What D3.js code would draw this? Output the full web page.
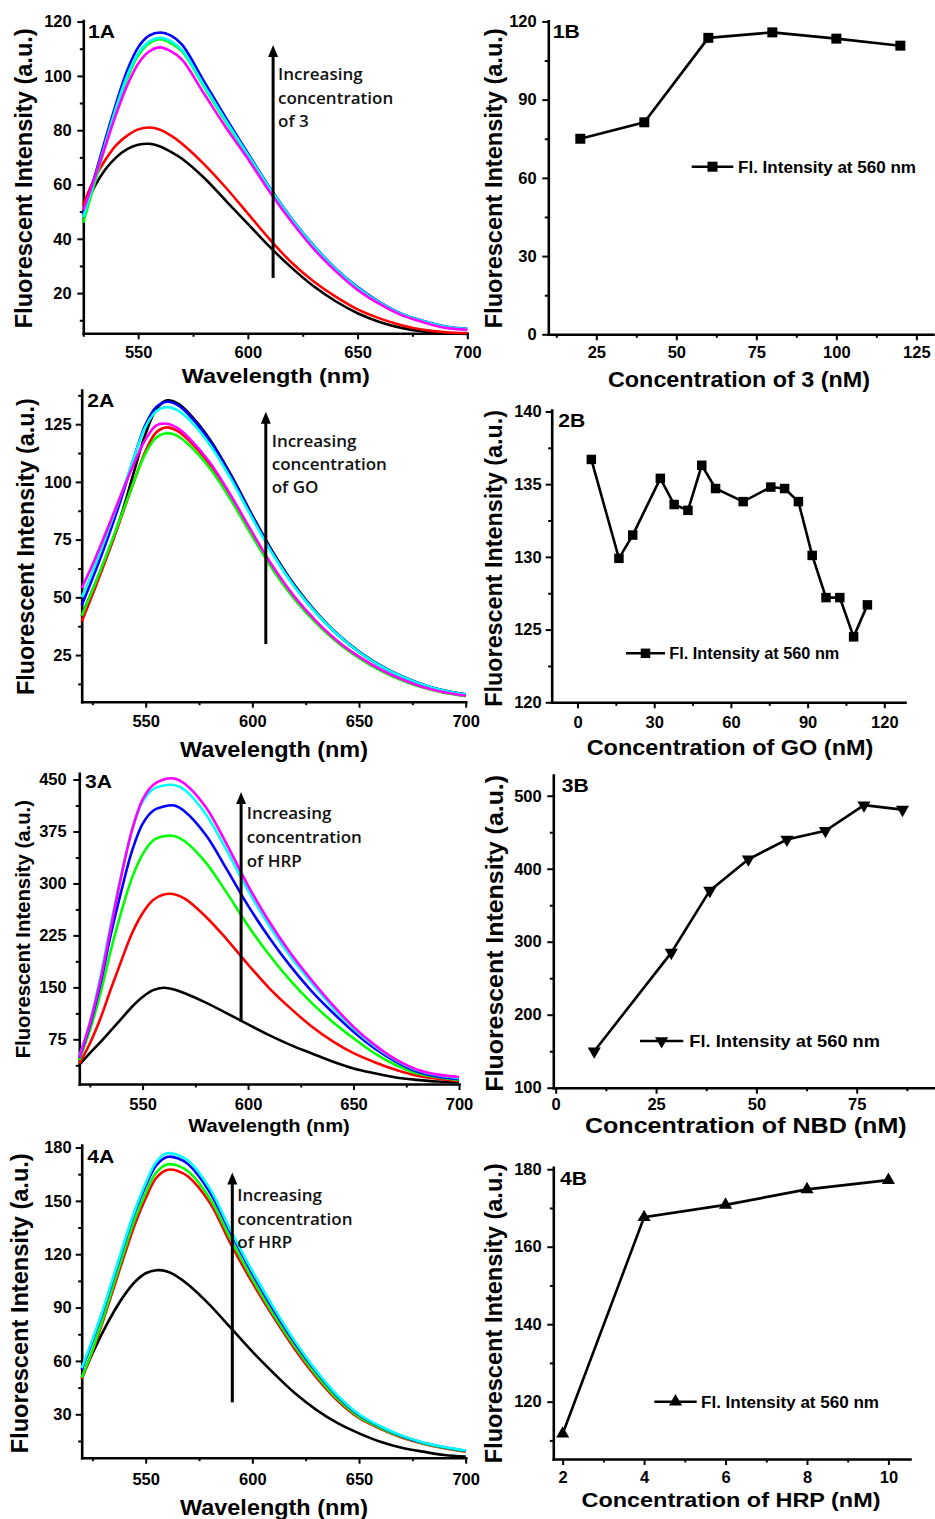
<!DOCTYPE html>
<html><head><meta charset="utf-8">
<script src="https://cdn.jsdelivr.net/npm/d3@7/dist/d3.min.js"></script>
<style>html,body{margin:0;padding:0;background:#fff}svg{display:block}</style>
</head><body>
<svg id="chart" width="935" height="1519" xmlns="http://www.w3.org/2000/svg"></svg>
<script>
// ================= DATA =================
const wavelength1A = [525,530,535,540,545,550,555,560,565,570,580,590,600,610,620,630,640,650,660,670,680,690,700];
const wavelength   = [520,525,530,535,540,545,550,555,560,565,570,580,590,600,610,620,630,640,650,660,670,680,690,700];

// Panel 1A (increasing concentration of 3)
const s1A_black   = [50,59,65.5,70,73,74.6,75,74,72,69.5,62.5,54,45.5,37,29.3,22.5,17,12.6,9.4,7.2,5.9,5.3,5];
const s1A_red     = [52.5,62,69,74.5,78,80.3,81,80.2,78,75,67.5,58.8,49.3,39.8,31.2,24.3,18.7,14,10.7,8.2,6.5,5.6,5.3];
const s1A_green   = [46,60,74,87.5,99,107.5,112,113.5,112,109,96,83,70.5,58,46.8,36.9,28.5,21.7,16.3,12.1,9.5,7.5,6.7];
const s1A_blue    = [49,62.5,76.5,90,102,110.5,114.8,116,114.8,111.5,98,84.5,71.5,58.8,47.4,37.5,29,22.2,16.7,12.4,9.7,7.7,6.9];
const s1A_cyan    = [48,61.5,75,88.5,100,108.3,112.6,114,112.7,109.5,96.5,83.5,71,58.5,47.2,37.3,28.8,22,16.5,12.3,9.6,7.6,6.8];
const s1A_magenta = [50.5,62,74,86,96.5,104.5,109,110.5,109,106,93.5,81,69.5,57.2,46.2,36.3,28.1,21.2,16,11.9,9.3,7.2,6.5];

// Panel 2A (increasing concentration of GO)
const s2A_black   = [42,53,64,76,90,106,121,131.5,135.3,134,130,118.5,103,85.5,69,55,43.5,34,26.5,20.5,15.8,12.2,9.6,8];
const s2A_red     = [39.5,51,63,75.5,88.5,101.5,113.5,121.5,123.6,122,118.2,107.5,93.3,77.3,62.2,49.5,39.2,30.7,24,18.6,14.3,11.1,8.8,7.3];
const s2A_green   = [42,53,64.5,76.5,89,101.5,112.5,119.2,121.1,119.8,116.3,106,92,76.3,61.4,48.9,38.7,30.3,23.7,18.3,14.1,10.9,8.7,7.2];
const s2A_blue    = [46.5,58,70,83,97,112,125,132.5,134.7,133.3,129.3,117.8,102.5,85,68.5,54.5,43.2,33.8,26.3,20.3,15.7,12.1,9.5,7.9];
const s2A_cyan    = [50,61,73,85.5,98.5,112,124,130.7,132.4,131,127.3,116.2,101.2,84.2,68,54.3,43.1,33.8,26.3,20.3,15.7,12.1,9.5,7.9];
const s2A_magenta = [54,64,75,86.5,98,109,118.5,124.5,125.2,123.3,119.3,108.5,94,78,62.8,50,39.6,31,24.3,18.8,14.5,11.2,8.9,7.4];

// Panel 3A (increasing concentration of HRP)
const s3A_black   = [38,55,71,88,105,122,136,146,149.5,147,141.5,128,112.5,96.5,81,67,55,43,33,26,20,16.5,14,13];
const s3A_red     = [40,69,105,148,189,228,257,276,284,284.5,278,252,219,183,149,120,94,72.5,55,42,31,22.5,18,14.5];
const s3A_green   = [45,88,141,204,260,308,342,362,368,368.5,361,330,286,239,197,160,128,100.5,76.5,54.7,38,26,20.3,16.5];
const s3A_blue    = [48,95,155,227,290,347,386,405,411,412.5,404,370,320,268,222,181,145,114,86,62,43,28.5,21.3,17.4];
const s3A_cyan    = [50,100,165,242,314,377,418,436,441.5,442,435,400,347,290,239,195,157,121.5,90.5,65,45,30.5,23,19];
const s3A_magenta = [49,98,160,237,312,377,421,442,450,451.5,444,410,356,297,245,200,161,125,93,67,46,31.5,24,20.5];

// Panel 4A (increasing concentration of HRP)
const s4A_black = [50.3,64,76.5,87.5,97,104.5,109.3,111,110.3,107.3,102.8,91.5,78.4,65.2,53.1,41.8,32.5,25,19.3,14.6,11.2,9,7.1,6.2];
const s4A_red   = [50,65,82.5,101,119.5,137,151.5,163,167.4,166.8,163.5,149,125.5,104,84.5,66.5,50.8,37.6,27.9,21.8,16.9,13.4,10.9,9];
const s4A_green = [50.5,66,84,103,122,140,154.5,166,170.5,169.8,166.5,151.5,128,106,86,68,52,38.5,28.5,22.3,17.3,13.7,11.2,9.3];
const s4A_blue  = [55,71,88,107,126,144,158.5,170,174.7,174,170.5,155,131.5,109,88.5,70,53.8,40,29.6,23,17.8,14,11.5,9.5];
const s4A_cyan  = [56,72,89,108,127,145,160,172,176.7,175.8,172.5,157,133,110.5,90,71,54.5,40.5,30,23.3,18,14.2,11.6,9.6];

// Panels B: intensity at 560 nm
const conc1B = [20,40,60,80,100,120];
const fl1B   = [75,81.3,113.7,115.8,113.4,110.7];
const conc2B = [5.4,16.2,21.6,32.4,37.8,43.2,48.6,54,64.8,75.6,81,86.4,91.8,97.2,102.6,108,113.4];
const fl2B   = [136.7,129.9,131.5,135.4,133.6,133.2,136.3,134.7,133.8,134.8,134.7,133.8,130.1,127.2,127.2,124.5,126.7];
const conc3B = [9.6,28.8,38.4,48,57.6,67.2,76.8,86.4];
const fl3B   = [150,285,370,413,440,452,487,481];
const conc4B = [2,4,6,8,10];
const fl4B   = [111.7,167.6,170.8,174.8,177.2];

// Tick values
const ticksWl      = [550,600,650,700];
const minorWl      = [525,575,625,675];
const ticks1A_y    = [20,40,60,80,100,120];
const minor1A_y    = [10,30,50,70,90,110];
const ticks1B_x    = [25,50,75,100,125];
const minor1B_x    = [12.5,37.5,62.5,87.5,112.5];
const ticks1B_y    = [0,30,60,90,120];
const minor1B_y    = [15,45,75,105];
const ticks2A_y    = [25,50,75,100,125];
const minor2A_y    = [12.5,37.5,62.5,87.5,112.5,137.5];
const ticks2B_x    = [0,30,60,90,120];
const minor2B_x    = [15,45,75,105];
const ticks2B_y    = [120,125,130,135,140];
const minor2B_y    = [122.5,127.5,132.5,137.5];
const ticks3A_y    = [75,150,225,300,375,450];
const minor3A_y    = [37.5,112.5,187.5,262.5,337.5,412.5];
const ticks3B_x    = [0,25,50,75];
const minor3B_x    = [12.5,37.5,62.5,87.5];
const ticks3B_y    = [100,200,300,400,500];
const minor3B_y    = [150,250,350,450];
const ticks4A_y    = [30,60,90,120,150,180];
const minor4A_y    = [15,45,75,105,135,165];
const ticks4B_x    = [2,4,6,8,10];
const minor4B_x    = [3,5,7,9];
const ticks4B_y    = [120,140,160,180];
const minor4B_y    = [110,130,150,170];

const curveColors = ["#000000","#ff0000","#00ff00","#0000ff","#00ffff","#ff00ff"];

// ================= DRAWING =================
const SANS = "'Liberation Sans', Arial, Helvetica, sans-serif";
const HUMAN = "'Open Sans', 'DejaVu Sans', sans-serif";
const svg = d3.select("#chart");
svg.append("rect").attr("width",935).attr("height",1519).attr("fill","#fff");

function makePanel(p) {
  const g = svg.append("g");
  const x = d3.scaleLinear().domain(p.xDomain).range(p.xRange);
  const y = d3.scaleLinear().domain(p.yDomain).range(p.yRange);
  const ax = p.yRange[0], ay = p.xRange[0];
  g.append("g").attr("transform",`translate(0,${ax})`)
    .call(d3.axisBottom(x).tickValues(p.xMinor).tickSize(3.5).tickFormat(""))
    .call(s => s.select(".domain").remove());
  g.append("g").attr("transform",`translate(${ay},0)`)
    .call(d3.axisLeft(y).tickValues(p.yMinor).tickSize(3.5).tickFormat(""))
    .call(s => s.select(".domain").remove());
  g.append("g").attr("transform",`translate(0,${ax})`)
    .call(d3.axisBottom(x).tickValues(p.xTicks).tickSize(6).tickSizeOuter(0).tickPadding(p.xPad).tickFormat(d3.format("d")));
  g.append("g").attr("transform",`translate(${ay},0)`)
    .call(d3.axisLeft(y).tickValues(p.yTicks).tickSize(6).tickSizeOuter(0).tickPadding(p.yPad).tickFormat(d3.format("d")));
  g.selectAll(".domain").attr("stroke","#000").attr("stroke-width",2.6).attr("stroke-linecap","square");
  g.selectAll(".tick line").attr("stroke","#000").attr("stroke-width",2);
  g.selectAll(".tick text").attr("font-family",SANS).attr("font-weight","bold").attr("font-size",16.5).attr("fill","#000");
  g.append("text").attr("x",p.label[1]).attr("y",p.label[2]).text(p.label[0])
    .attr("font-family",SANS).attr("font-weight","bold").attr("font-size",18.5)
    .attr("textLength",27).attr("lengthAdjust","spacingAndGlyphs");
  g.append("text").attr("x",p.xTitle[1]).attr("y",p.xTitle[2]).text(p.xTitle[0])
    .attr("text-anchor","middle").attr("font-family",SANS).attr("font-weight","bold")
    .attr("font-size",p.xTitle[3]).attr("textLength",p.xTitle[4]).attr("lengthAdjust","spacingAndGlyphs");
  g.append("text").attr("transform",`translate(${p.yTitle[1]},${p.yTitle[2]}) rotate(-90)`).text(p.yTitle[0])
    .attr("text-anchor","middle").attr("font-family",SANS).attr("font-weight","bold")
    .attr("font-size",p.yTitle[3]).attr("textLength",p.yTitle[4]).attr("lengthAdjust","spacingAndGlyphs");
  return {g,x,y};
}

function drawSpectra(P, xs, seriesList) {
  const line = d3.line().x((d,i)=>P.x(xs[i])).y(d=>P.y(d)).curve(d3.curveCatmullRom.alpha(0.5));
  seriesList.forEach((vals,i) => {
    P.g.append("path").attr("d",line(vals)).attr("fill","none")
      .attr("stroke",curveColors[i]).attr("stroke-width",2.6).attr("stroke-linejoin","round");
  });
}

function drawArrow(P, wl, v0, v1, lines, tx, ty0, dy) {
  const x = P.x(wl), yb = P.y(v0), yt = P.y(v1);
  P.g.append("line").attr("x1",x).attr("x2",x).attr("y1",yb).attr("y2",yt+8)
    .attr("stroke","#000").attr("stroke-width",3);
  P.g.append("path").attr("d",`M${x},${yt} L${x-5},${yt+12} L${x+5},${yt+12} Z`).attr("fill","#000");
  lines.forEach((t,i) => {
    P.g.append("text").attr("x",tx).attr("y",ty0+i*dy).text(t)
      .attr("font-family",HUMAN).attr("font-size",17).attr("font-weight",600).attr("fill","#111");
  });
}

function drawPoints(P, xs, ys, sym, legend) {
  const line = d3.line().x((d,i)=>P.x(xs[i])).y(d=>P.y(d));
  P.g.append("path").attr("d",line(ys)).attr("fill","none").attr("stroke","#000").attr("stroke-width",2.6);
  const path = d3.symbol().type(sym.type).size(sym.size)();
  P.g.selectAll(null).data(ys).enter().append("path").attr("d",path)
    .attr("transform",(d,i)=>`translate(${P.x(xs[i])},${P.y(d)}) rotate(${sym.rot})`)
    .attr("fill","#000");
  const [lx0,lx1,ly,tx,tyb,tlen,fs] = legend;
  P.g.append("line").attr("x1",lx0).attr("x2",lx1).attr("y1",ly).attr("y2",ly).attr("stroke","#000").attr("stroke-width",2.6);
  P.g.append("path").attr("d",path).attr("transform",`translate(${(lx0+lx1)/2},${ly}) rotate(${sym.rot})`).attr("fill","#000");
  P.g.append("text").attr("x",tx).attr("y",tyb).text("Fl. Intensity at 560 nm")
    .attr("font-family",SANS).attr("font-weight","bold").attr("font-size",fs)
    .attr("textLength",tlen).attr("lengthAdjust","spacingAndGlyphs");
}

const yLab = "Fluorescent Intensity (a.u.)";

// ---- 1A ----
const P1A = makePanel({xDomain:[525,700], xRange:[83.3,467.3], yDomain:[5.2,120.4], yRange:[333.3,20.5],
  xTicks:ticksWl, xMinor:minorWl, yTicks:ticks1A_y, yMinor:minor1A_y, xPad:7.4, yPad:5.6,
  label:["1A",88,38.3], xTitle:["Wavelength (nm)",275.8,383.3,21,188], yTitle:[yLab,31.5,178.3,23,300]});
drawSpectra(P1A, wavelength1A, [s1A_black,s1A_red,s1A_green,s1A_blue,s1A_cyan,s1A_magenta]);
drawArrow(P1A, 611.5, 25.6, 111.4, ["Increasing","concentration","of 3"], 278, 80, 23.5);

// ---- 1B ----
const P1B = makePanel({xDomain:[10,130.2], xRange:[548.3,933], yDomain:[0,120.2], yRange:[334.3,20.9],
  xTicks:ticks1B_x, xMinor:minor1B_x, yTicks:ticks1B_y, yMinor:minor1B_y, xPad:6.4, yPad:5.6,
  label:["1B",552.7,38.3], xTitle:["Concentration of 3 (nM)",739,386.7,21.5,262], yTitle:[yLab,502,178.3,23,300]});
drawPoints(P1B, conc1B, fl1B, {type:d3.symbolSquare,size:100,rot:0}, [691.7,733.3,166.7,738,172.5,178,16]);

// ---- 2A ----
const P2A = makePanel({xDomain:[520,700], xRange:[81.7,465.7], yDomain:[4.8,139.8], yRange:[701.7,390],
  xTicks:ticksWl, xMinor:minorWl, yTicks:ticks2A_y, yMinor:minor2A_y, xPad:7.3, yPad:4,
  label:["2A",87.3,406.7], xTitle:["Wavelength (nm)",274,756.7,21.5,188], yTitle:[yLab,33.5,546.7,23,296.7]});
drawSpectra(P2A, wavelength, [s2A_black,s2A_red,s2A_green,s2A_blue,s2A_cyan,s2A_magenta]);
drawArrow(P2A, 606.3, 29.8, 130.4, ["Increasing","concentration","of GO"], 271.7, 446.7, 23.3);

// ---- 2B ----
const P2B = makePanel({xDomain:[-10.1,128.1], xRange:[551.7,905], yDomain:[120,140.1], yRange:[702.3,410],
  xTicks:ticks2B_x, xMinor:minor2B_x, yTicks:ticks2B_y, yMinor:minor2B_y, xPad:8.4, yPad:4,
  label:["2B",558.3,426.7], xTitle:["Concentration of GO (nM)",730,755,21.5,286.7], yTitle:[yLab,502,558.3,23,296.7]});
drawPoints(P2B, conc2B, fl2B, {type:d3.symbolSquare,size:90,rot:0}, [626,665,653.3,669.3,659,170,16]);

// ---- 3A ----
const P3A = makePanel({xDomain:[520,700], xRange:[79.3,459], yDomain:[10.5,459], yRange:[1084,773.3],
  xTicks:ticksWl, xMinor:minorWl, yTicks:ticks3A_y, yMinor:minor3A_y, xPad:8.3, yPad:6.6,
  label:["3A",85,788.3], xTitle:["Wavelength (nm)",269,1131.7,19,161.7], yTitle:[yLab,29.5,929.2,20.5,258.3]});
drawSpectra(P3A, wavelength, [s3A_black,s3A_red,s3A_green,s3A_blue,s3A_cyan,s3A_magenta]);
drawArrow(P3A, 596.7, 100.4, 432, ["Increasing","concentration","of HRP"], 246.7, 819.3, 23.7);

// ---- 3B ----
const P3B = makePanel({xDomain:[-0.6,94.5], xRange:[553.3,935], yDomain:[100,528.4], yRange:[1087.7,775],
  xTicks:ticks3B_x, xMinor:minor3B_x, yTicks:ticks3B_y, yMinor:minor3B_y, xPad:4.6, yPad:5.6,
  label:["3B",561.7,792.3], xTitle:["Concentration of NBD (nM)",745.8,1133.3,22,321.7], yTitle:[yLab,502.5,933.3,23,316.7]});
drawPoints(P3B, conc3B, fl3B, {type:d3.symbolTriangle,size:75,rot:180}, [640,683.3,1041,689.3,1047,190.7,17]);

// ---- 4A ----
const P4A = makePanel({xDomain:[520,700], xRange:[81.7,465.7], yDomain:[5.6,181.4], yRange:[1457.7,1145],
  xTicks:ticksWl, xMinor:minorWl, yTicks:ticks4A_y, yMinor:minor4A_y, xPad:9.6, yPad:4,
  label:["4A",87.3,1163.3], xTitle:["Wavelength (nm)",274,1515,22,188], yTitle:[yLab,28,1303.3,23,300]});
drawSpectra(P4A, wavelength, [s4A_black,s4A_red,s4A_green,s4A_blue,s4A_cyan]);
drawArrow(P4A, 590.6, 36.7, 166, ["Increasing","concentration","of HRP"], 237.3, 1201, 23.7);

// ---- 4B ----
const P4B = makePanel({xDomain:[1.77,10.53], xRange:[553.3,910], yDomain:[105.2,180.5], yRange:[1459,1167.3],
  xTicks:ticks4B_x, xMinor:minor4B_x, yTicks:ticks4B_y, yMinor:minor4B_y, xPad:6.7, yPad:5.6,
  label:["4B",560,1185], xTitle:["Concentration of HRP (nM)",731,1506.7,21,299], yTitle:[yLab,502,1313.3,23,300]});
drawPoints(P4B, conc4B, fl4B, {type:d3.symbolTriangle,size:75,rot:0}, [654.3,696.7,1401.7,701,1407.5,178,16]);
</script>
</body></html>
